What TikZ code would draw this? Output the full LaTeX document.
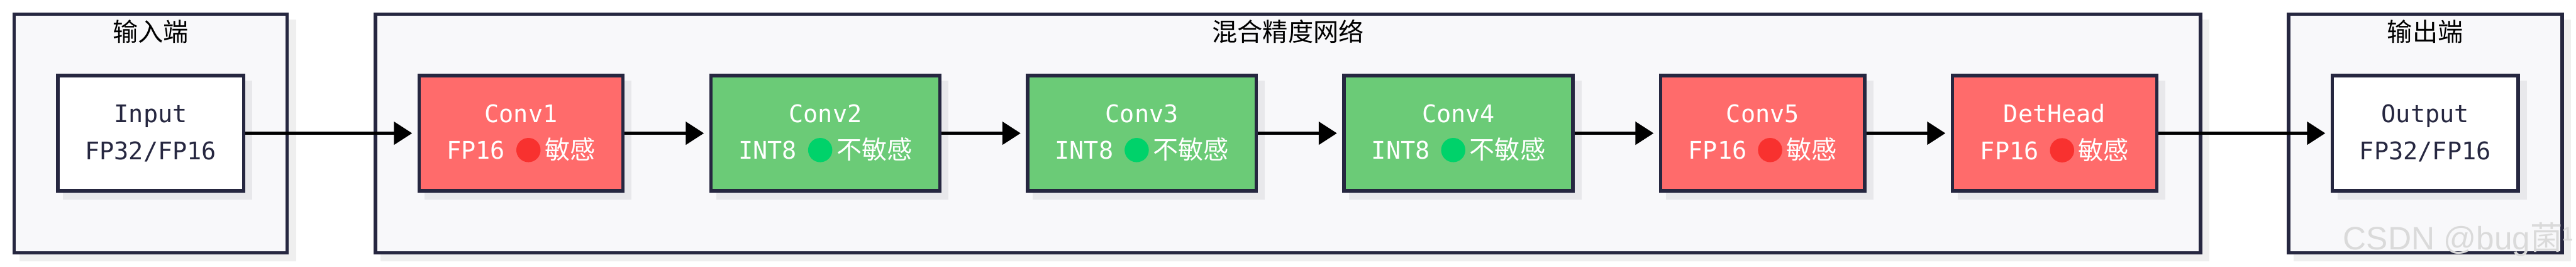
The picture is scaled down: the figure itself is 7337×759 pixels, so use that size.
\documentclass[tikz,border=0pt]{standalone}
\usepackage{fontspec}
\setmainfont{DejaVu Sans Mono}
\newfontfamily\cjk{Noto Sans CJK SC}
\newfontfamily\wmfont{Liberation Sans}
\usetikzlibrary{arrows.meta,shadows}
\definecolor{edgec}{HTML}{262740}
\definecolor{panelc}{HTML}{F8F8FA}
\definecolor{redc}{HTML}{FF6B6B}
\definecolor{greenc}{HTML}{6BCB77}
\definecolor{emred}{HTML}{F8312F}
\definecolor{emgreen}{HTML}{00D26A}
\definecolor{shadin}{HTML}{E8E8EB}
\definecolor{shadout}{HTML}{EFEFEF}
\definecolor{wmc}{HTML}{DADADA}
\newcommand{\zh}[1]{{\cjk\fontsize{14.4pt}{21pt}\selectfont #1}}
\newcommand{\sdot}[1]{\tikz[baseline=0pt]\fill[#1] (6.9pt,5.2pt) circle[radius=6.9pt];}
\newcommand{\sens}{FP16\hspace{6.4pt}\sdot{emred}\hspace{2.4pt}\zh{敏感}}
\newcommand{\insens}{INT8\hspace{6.4pt}\sdot{emgreen}\hspace{2.4pt}\zh{不敏感}}
\tikzset{
  panel/.style={draw=edgec, line width=2pt, fill=panelc, minimum height=679*0.2pt,
    general shadow={shadow xshift=4pt, shadow yshift=-4pt, fill=shadout, draw=shadout, line width=2pt}},
  layer/.style={draw=edgec, line width=2pt, minimum height=328*0.2pt, align=center,
    font=\fontsize{13.8pt}{21pt}\selectfont,
    general shadow={shadow xshift=4pt, shadow yshift=-4pt, fill=shadin, draw=shadin, line width=2pt}},
  iobox/.style={layer, fill=white, text=edgec, minimum width=529*0.2pt},
  hotbox/.style={layer, fill=redc, text=white},
  coolbox/.style={layer, fill=greenc, text=white},
  ttl/.style={anchor=base, inner sep=0pt, font=\cjk\fontsize{14.4pt}{21pt}\selectfont, text=black},
  arr/.style={draw=black, line width=2pt, -{Triangle[length=10.4pt, width=12.8pt]}, shorten >=3pt},
}
\begin{document}
\begin{tikzpicture}[x=0.2pt, y=-0.2pt]
\useasboundingbox (0,0) rectangle (7337,759);
% panels
\node[panel, minimum width=778*0.2pt] (pin) at (429,379.5) {};
\node[panel, minimum width=5199*0.2pt] (pnet) at (3668.5,379.5) {};
\node[panel, minimum width=779*0.2pt] (pout) at (6907.5,379.5) {};
\node[ttl] (tin) at (429,118) {输入端};
\node[ttl] (tnet) at (3668.5,118) {混合精度网络};
\node[ttl] (tout) at (6907.5,118) {输出端};
% layers
\node[iobox] (in) at (429.5,379) {Input\\FP32/FP16};
\node[hotbox, minimum width=580*0.2pt] (c1) at (1484,379) {Conv1\\\sens};
\node[coolbox, minimum width=652*0.2pt] (c2) at (2351,379) {Conv2\\\insens};
\node[coolbox, minimum width=651*0.2pt] (c3) at (3252.5,379) {Conv3\\\insens};
\node[coolbox, minimum width=652*0.2pt] (c4) at (4154,379) {Conv4\\\insens};
\node[hotbox, minimum width=581*0.2pt] (c5) at (5020.5,379) {Conv5\\\sens};
\node[hotbox, minimum width=582*0.2pt] (dh) at (5852,379) {DetHead\\\sens};
\node[iobox] (out) at (6907.5,379) {Output\\FP32/FP16};
% connectors
\draw[arr] (in.east) -- (c1.west);
\draw[arr] (c1.east) -- (c2.west);
\draw[arr] (c2.east) -- (c3.west);
\draw[arr] (c3.east) -- (c4.west);
\draw[arr] (c4.east) -- (c5.west);
\draw[arr] (c5.east) -- (dh.west);
\draw[arr] (dh.east) -- (out.west);
% watermark
\node[anchor=base west, inner sep=0pt, text=wmc, font=\wmfont\fontsize{18.4pt}{20pt}\selectfont] (wm) at (6673,710) {CSDN @bug{\cjk 菌}¹};
\end{tikzpicture}
\end{document}
